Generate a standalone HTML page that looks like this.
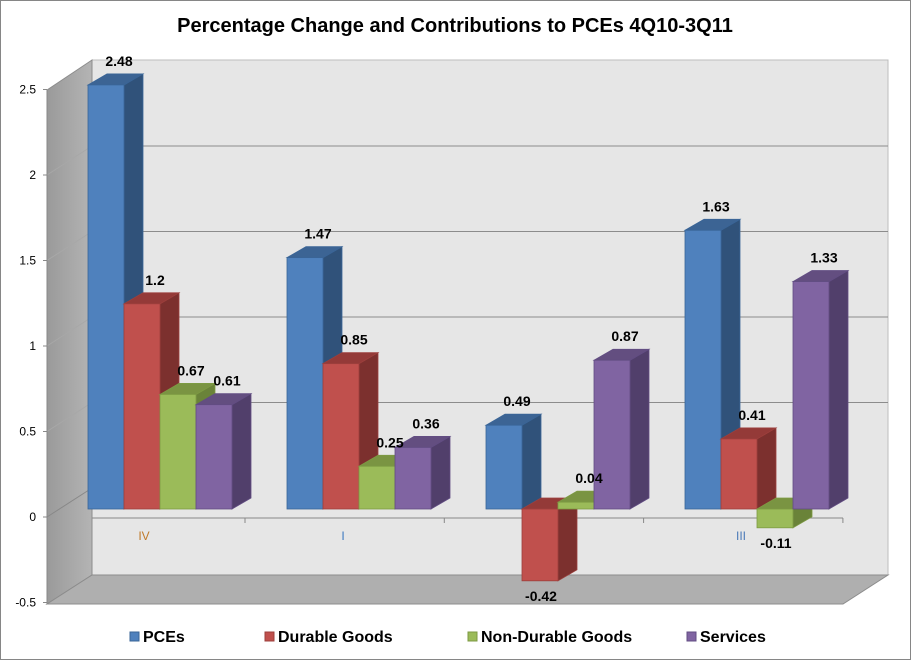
<!DOCTYPE html>
<html><head><meta charset="utf-8">
<style>
html,body{margin:0;padding:0;background:#fff;}
svg{display:block;font-family:"Liberation Sans",Arial,sans-serif;}
</style></head>
<body>
<svg id="chart" width="911" height="660" viewBox="0 0 911 660">
  <rect x="0.5" y="0.5" width="910" height="659" fill="#fff" stroke="#868686"/>
  <text x="455" y="32" text-anchor="middle" font-size="20" font-weight="bold" fill="#000">Percentage Change and Contributions to PCEs 4Q10-3Q11</text>
  <defs>
    <linearGradient id="wallG" x1="0" x2="1" y1="0" y2="0">
      <stop offset="0" stop-color="#9a9a9a"/><stop offset="1" stop-color="#b4b4b4"/>
    </linearGradient>
  </defs>
  <polygon points="92,60 888,60 888,575 92,575" fill="#e6e6e6" stroke="#bdbdbd"/>
  <polygon points="47,90 92,60 92,575 47,604" fill="url(#wallG)" stroke="#8c8c8c"/>
  <polygon points="47,604 843,604 888,575 92,575" fill="#afafaf" stroke="#8c8c8c"/>
  <g id="grid"></g>
  <g id="axis"></g>
  <g id="bars"></g>
  <g id="labels"></g>
  <g id="legend"></g>
</svg>
<script>
const categories = ["IV","I","II","III"];
const seriesNames = ["PCEs","Durable Goods","Non-Durable Goods","Services"];
const pces = [2.48, 1.47, 0.49, 1.63];
const durable = [1.2, 0.85, -0.42, 0.41];
const nondurable = [0.67, 0.25, 0.04, -0.11];
const services = [0.61, 0.36, 0.87, 1.33];
const yTicks = [-0.5, 0, 0.5, 1, 1.5, 2, 2.5];
const gridVals = [0.5, 1, 1.5, 2];

const NS = "http://www.w3.org/2000/svg";
const series = [pces, durable, nondurable, services];
const frontCol = ["#4f81bd","#c0504d","#9bbb59","#8064a2"];
const sideCol = ["#30527a","#7c302e","#6a8339","#513f6b"];
const topCol = ["#3c6494","#943a38","#7a9442","#634e80"];
const edgeCol = ["#3a6597","#9c3f3c","#7d9a43","#624d83"];
const PXU = 171;
function yFront(v){ return 517 - v*PXU; }
function yBack(v){ return 488 - v*PXU; }
function yBar(v){ return 509 - v*PXU; }
function groupX(i){ return 88 + i*199; }
const BW = 36, DX = 19, DY = -11;

function mk(tag, attrs, parent){
  const e = document.createElementNS(NS, tag);
  for (const k in attrs) e.setAttribute(k, attrs[k]);
  parent.appendChild(e); return e;
}
const grid = document.getElementById('grid');
gridVals.forEach(v=>{
  const y = yBack(v), y2 = yFront(v);
  const l = mk('line',{x1:92,y1:y,x2:888,y2:y,stroke:'#8c8c8c','stroke-width':1},grid);
  
  
  const s = mk('line',{x1:47,y1:y2,x2:92,y2:y,stroke:'#a8a8a8','stroke-width':1},grid);
  
  
});
const axis = document.getElementById('axis');
yTicks.forEach(v=>{
  const y = yFront(v);
  const t = mk('text',{x:36,y:y+4,'text-anchor':'end','font-size':12,fill:'#000'},axis);
  t.textContent = String(v);
  
  
  const tk = mk('line',{x1:43,y1:y,x2:47,y2:y,stroke:'#888'},axis);
  
  
});
const yl = mk('line',{x1:47,y1:90,x2:47,y2:604,stroke:'#888'},axis);


const zl = mk('line',{x1:47,y1:517,x2:92,y2:488,stroke:'#888'},axis);


const xl = mk('line',{x1:92,y1:518,x2:843,y2:518,stroke:'#888'},axis);


const catColors = ["#c07a2a","#3a78c0","#8a2a2a","#4a7ab8"];
categories.forEach((c,i)=>{
  const tx = 245 + i*199.3;
  const tk = mk('line',{x1:tx,y1:518,x2:tx,y2:523,stroke:'#888'},axis);
  
  
  const t = mk('text',{x:groupX(i)+56,y:540,'text-anchor':'middle','font-size':12,fill:catColors[i]},axis);
  t.textContent = c;
  
  
});
const bars = document.getElementById('bars');
const labels = document.getElementById('labels');
categories.forEach((c,i)=>{
  series.forEach((s,j)=>{
    const v = s[i];
    const x = groupX(i) + j*BW;
    const y0 = yBar(0), y1 = yBar(v);
    const yt = Math.min(y0,y1), yb = Math.max(y0,y1);
    const g = mk('g',{},bars);
    
    
    mk('polygon',{points:`${x+BW},${yt} ${x+BW+DX},${yt+DY} ${x+BW+DX},${yb+DY} ${x+BW},${yb}`,fill:sideCol[j],stroke:edgeCol[j],'stroke-width':0.8},g);
    mk('polygon',{points:`${x},${yt} ${x+DX},${yt+DY} ${x+BW+DX},${yt+DY} ${x+BW},${yt}`,fill:topCol[j],stroke:edgeCol[j],'stroke-width':0.8},g);
    mk('rect',{x:x,y:yt,width:BW,height:Math.max(yb-yt,1),fill:frontCol[j],stroke:edgeCol[j],'stroke-width':0.8},g);
    const lx = v >= 0 ? x + BW/2 + 13 : x + BW/2 + 1;
    const ly = v >= 0 ? y1 - 19 : y1 + 20;
    const t = mk('text',{x:lx,y:ly,'text-anchor':'middle','font-size':14,'font-weight':'bold',fill:'#000'},labels);
    t.textContent = String(v);
    
    
  });
});
const legend = document.getElementById('legend');
const legX = [130, 265, 468, 687];
seriesNames.forEach((n,j)=>{
  const g = mk('g',{},legend);
  
  
  mk('rect',{x:legX[j],y:632,width:9,height:9,fill:frontCol[j],stroke:edgeCol[j]},g);
  const t = mk('text',{x:legX[j]+13,y:642,'font-size':16,'font-weight':'bold',fill:'#000'},g);
  t.textContent = n;
});
</script>
</body></html>
